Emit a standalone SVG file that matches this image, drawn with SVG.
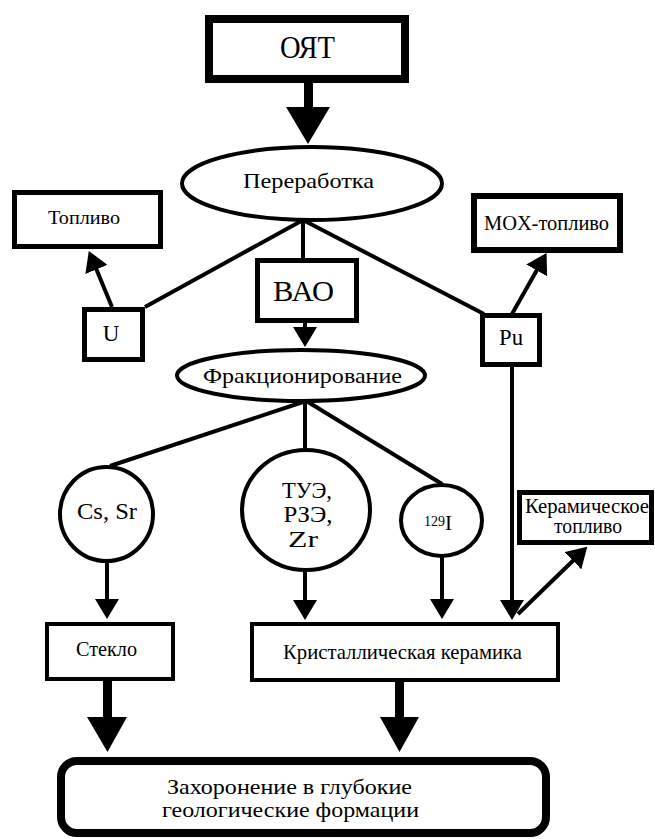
<svg xmlns="http://www.w3.org/2000/svg" width="655" height="839" viewBox="0 0 655 839">
<style>
  .box { fill: #fff; stroke: #000; }
  .ln { stroke: #000; stroke-width: 4; fill: none; }
  .arr { stroke: #000; stroke-width: 4; fill: none; marker-end: url(#ah); }
  .head { fill: #000; }
</style>
<defs>
  <marker id="ah" markerUnits="userSpaceOnUse" viewBox="0 0 20 24" refX="14" refY="12" markerWidth="20" markerHeight="24" orient="auto">
    <path d="M0,0 L20,12 L0,24 Z" fill="#000"/>
  </marker>
</defs>
<rect width="655" height="839" fill="#fff"/>

<g id="connectors">
  <line x1="308.5" y1="83" x2="308.5" y2="110" stroke="#000" stroke-width="9"/>
  <polygon class="head" points="286,107 330,107 308,144"/>
  <line class="ln" x1="303" y1="220" x2="145" y2="307"/>
  <line class="ln" x1="303" y1="220" x2="303" y2="260"/>
  <line class="ln" x1="303" y1="220" x2="484" y2="314"/>
  <line class="arr" x1="112" y1="307" x2="91.1" y2="256.5"/>
  <line class="arr" x1="512" y1="314" x2="543.6" y2="258.2"/>
  <line class="arr" x1="305" y1="322" x2="305" y2="341"/>
  <line class="ln" x1="303" y1="402" x2="110" y2="466"/>
  <line class="ln" x1="305" y1="402" x2="305" y2="449"/>
  <line class="ln" x1="308" y1="402" x2="442" y2="484"/>
  <line class="arr" x1="107" y1="562" x2="107" y2="613"/>
  <line class="arr" x1="305" y1="571" x2="305" y2="614"/>
  <line class="arr" x1="442" y1="557" x2="442" y2="613"/>
  <line class="arr" x1="512" y1="366" x2="512" y2="614"/>
  <line class="arr" x1="518" y1="614" x2="583" y2="551"/>
  <line x1="107.5" y1="681" x2="107.5" y2="720" stroke="#000" stroke-width="9"/>
  <polygon class="head" points="87,717 127,717 107.5,752"/>
  <line x1="399.5" y1="682" x2="399.5" y2="720" stroke="#000" stroke-width="9"/>
  <polygon class="head" points="380,717 419,717 399.5,752"/>
</g>

<g font-family="Liberation Serif, Times New Roman, DejaVu Serif, serif" fill="#000" text-anchor="middle">
<g id="oyat">
  <rect class="box" x="209" y="19" width="196" height="60" stroke-width="8"/>
  <text x="307.5" y="58" font-size="31" textLength="55" lengthAdjust="spacingAndGlyphs">ОЯТ</text>
</g>

<g id="pererabotka">
  <ellipse class="box" cx="312" cy="183.5" rx="130" ry="36.5" stroke-width="4"/>
  <text x="308.5" y="188" font-size="21" textLength="131" lengthAdjust="spacingAndGlyphs">Переработка</text>
</g>

<g id="toplivo">
  <rect class="box" x="14.5" y="192.5" width="146" height="54" stroke-width="5"/>
  <text x="84" y="224" font-size="19" textLength="72" lengthAdjust="spacingAndGlyphs">Топливо</text>
</g>

<g id="mox">
  <rect class="box" x="474" y="196" width="146" height="54" stroke-width="6"/>
  <text x="546.5" y="230" font-size="20" textLength="125" lengthAdjust="spacingAndGlyphs">MOX-топливо</text>
</g>

<g id="u">
  <rect class="box" x="84.5" y="309.5" width="58" height="50" stroke-width="5"/>
  <text x="111" y="341" font-size="23">U</text>
</g>

<g id="vao">
  <rect class="box" x="257.5" y="260.5" width="99" height="60" stroke-width="5"/>
  <text x="303.5" y="301" font-size="29" textLength="61" lengthAdjust="spacingAndGlyphs">ВАО</text>
</g>

<g id="pu">
  <rect class="box" x="482.5" y="315.5" width="57" height="49" stroke-width="5"/>
  <text x="511" y="345" font-size="23" textLength="24" lengthAdjust="spacingAndGlyphs">Pu</text>
</g>

<g id="frakcionirovanie">
  <ellipse class="box" cx="301" cy="375.5" rx="124" ry="25.5" stroke-width="4"/>
  <text x="302.5" y="383" font-size="22" textLength="199" lengthAdjust="spacingAndGlyphs">Фракционирование</text>
</g>

<g id="cssr">
  <ellipse class="box" cx="106.5" cy="514" rx="46.5" ry="47" stroke-width="4"/>
  <text x="107" y="519" font-size="23" textLength="60" lengthAdjust="spacingAndGlyphs">Cs, Sr</text>
</g>

<g id="tue">
  <ellipse class="box" cx="306" cy="510" rx="64" ry="60" stroke-width="4"/>
  <text x="307" y="498" font-size="23" textLength="50" lengthAdjust="spacingAndGlyphs">ТУЭ,</text>
  <text x="308" y="522" font-size="23" textLength="49" lengthAdjust="spacingAndGlyphs">РЗЭ,</text>
  <text x="303" y="547" font-size="23" textLength="30" lengthAdjust="spacingAndGlyphs">Zr</text>
</g>

<g id="iodine">
  <ellipse class="box" cx="441.5" cy="520.5" rx="40.5" ry="35.5" stroke-width="4"/>
  <text x="424" y="530" text-anchor="start"><tspan font-size="14" dy="-4">129</tspan><tspan font-size="21" dy="4">I</tspan></text>
</g>

<g id="keramtoplivo">
  <rect class="box" x="519.5" y="492.5" width="132" height="50" stroke-width="5"/>
  <text x="587" y="513" font-size="20" textLength="124" lengthAdjust="spacingAndGlyphs">Керамическое</text>
  <text x="588" y="533" font-size="20" textLength="68" lengthAdjust="spacingAndGlyphs">топливо</text>
</g>

<g id="steklo">
  <rect class="box" x="47" y="624" width="126" height="55" stroke-width="4"/>
  <text x="106.5" y="656" font-size="20" textLength="61" lengthAdjust="spacingAndGlyphs">Стекло</text>
</g>

<g id="keramika">
  <rect class="box" x="252" y="624" width="306" height="56" stroke-width="4"/>
  <text x="402.5" y="659" font-size="21" textLength="239" lengthAdjust="spacingAndGlyphs">Кристаллическая керамика</text>
</g>

<g id="zahoronenie">
  <rect class="box" x="61" y="761" width="485" height="72" rx="16" ry="16" stroke-width="8"/>
  <text x="289.5" y="794" font-size="22" textLength="245" lengthAdjust="spacingAndGlyphs">Захоронение в глубокие</text>
  <text x="290.5" y="817" font-size="22" textLength="257" lengthAdjust="spacingAndGlyphs">геологические формации</text>
</g>
</g>
</svg>
